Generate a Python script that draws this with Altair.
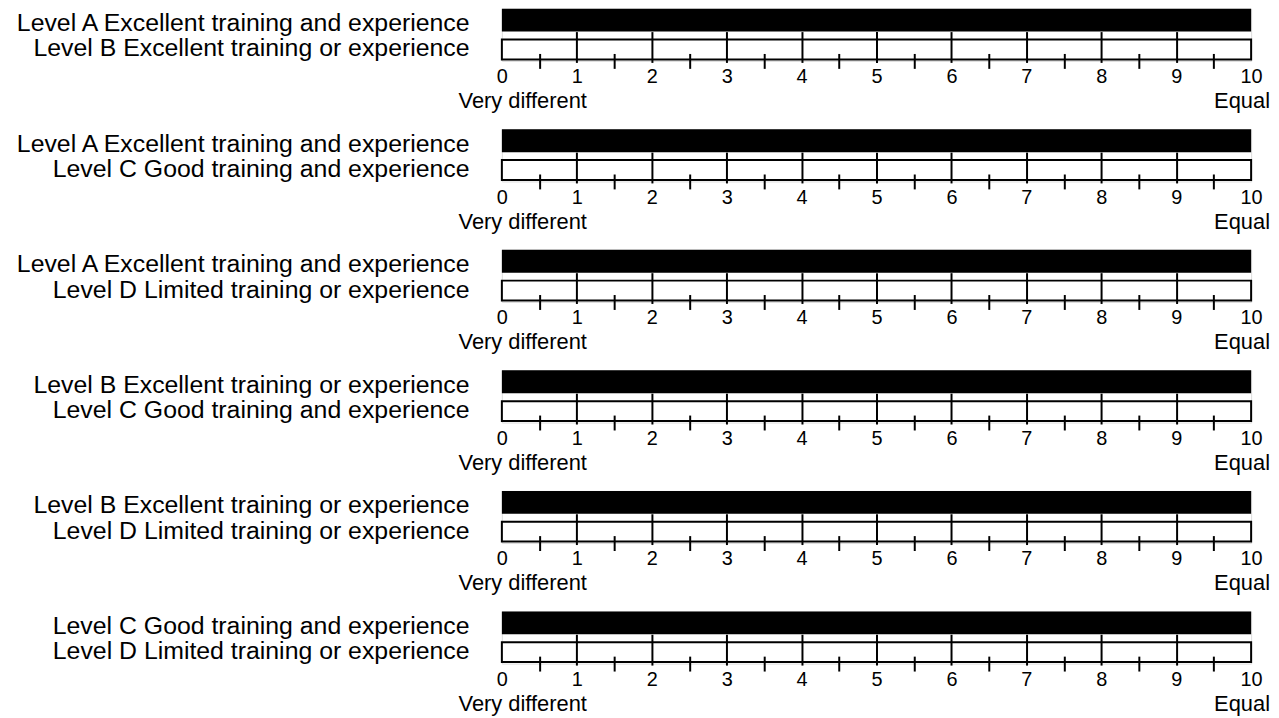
import altair as alt
import pandas as pd

FONT = "Liberation Sans"

# ---- data -------------------------------------------------------------
upper_levels = [
    "Level A Excellent training and experience",
    "Level A Excellent training and experience",
    "Level A Excellent training and experience",
    "Level B Excellent training or experience",
    "Level B Excellent training or experience",
    "Level C Good training and experience",
]
lower_levels = [
    "Level B Excellent training or experience",
    "Level C Good training and experience",
    "Level D Limited training or experience",
    "Level C Good training and experience",
    "Level D Limited training or experience",
    "Level D Limited training or experience",
]
bar_values = [10, 10, 10, 10, 10, 10]
scale_min = 0
scale_max = 10
major_ticks = [1, 2, 3, 4, 5, 6, 7, 8, 9]
minor_ticks = [0.5, 1.5, 2.5, 3.5, 4.5, 5.5, 6.5, 7.5, 8.5, 9.5]
tick_labels = [0, 1, 2, 3, 4, 5, 6, 7, 8, 9, 10]
end_labels = ["Very different", "Equal"]
end_values = [0, 10]

# ---- layout constants ---------------------------------------------------
W = 754
H = 52.5

xscale = alt.Scale(domain=[scale_min, scale_max], nice=False, zero=False)

major_axis = alt.Axis(orient="top", offset=-54, values=major_ticks, tickSize=31,
                      tickWidth=2, tickColor="black", labels=False, domain=False,
                      grid=False, title=None, zindex=1)
minor_axis = alt.Axis(orient="top", offset=-60, values=minor_ticks, tickSize=15,
                      tickWidth=2, tickColor="black", labels=False, domain=False,
                      grid=False, title=None, zindex=1)
label_axis = alt.Axis(orient="bottom", values=tick_labels, ticks=False, tickSize=0,
                      domain=False, grid=False, title=None, labelFontSize=20,
                      labelFont=FONT, labelColor="black", labelPadding=22,
                      labelBaseline="alphabetic", labelFlush=False, labelOverlap=False)

ends = pd.DataFrame({"pos": end_values, "label": end_labels})


def panel(i):
    top, bottom = upper_levels[i], lower_levels[i]
    yscale = alt.Scale(domain=[top, bottom], paddingInner=0.2203, paddingOuter=0)
    yaxis = alt.Axis(
        title=None, domain=False, ticks=False, tickSize=0, labelPadding=33,
        labelFontSize=25, labelFont=FONT, labelColor="black", labelLimit=0,
        labelOffset={"condition": {"test": f"datum.value === '{top}'", "value": 3},
                     "value": -1},
    )
    filled = pd.DataFrame({"pair": [top], "start": [scale_min], "end": [bar_values[i]]})
    outline = pd.DataFrame({"pair": [bottom], "start": [scale_min], "end": [scale_max]})

    black = alt.Chart(filled).mark_bar(color="black").encode(
        x=alt.X("start:Q", scale=xscale, axis=major_axis),
        x2="end:Q",
        y=alt.Y("pair:N", scale=yscale, axis=yaxis, sort=None),
    )
    box = alt.Chart(outline).mark_bar(size=20, fill="white", stroke="black",
                                      strokeWidth=2).encode(
        x=alt.X("start:Q", scale=xscale, axis=minor_axis),
        x2="end:Q",
        y=alt.Y("pair:N", scale=yscale, axis=yaxis, sort=None),
    )
    left_end = alt.Chart(ends).transform_filter(alt.datum.pos == scale_min).mark_text(
        align="center", baseline="alphabetic", dx=21, fontSize=22, font=FONT, color="black"
    ).encode(
        x=alt.X("pos:Q", scale=xscale, axis=label_axis),
        y=alt.value(100),
        text="label:N",
    )
    right_end = alt.Chart(ends).transform_filter(alt.datum.pos == scale_max).mark_text(
        align="right", baseline="alphabetic", dx=19, fontSize=22, font=FONT, color="black"
    ).encode(
        x=alt.X("pos:Q", scale=xscale, axis=None),
        y=alt.value(100),
        text="label:N",
    )
    return alt.layer(black, box, left_end, right_end).resolve_axis(
        x="independent"
    ).properties(width=W, height=H)


chart = alt.vconcat(*[panel(i) for i in range(6)], spacing=68.3, bounds="flush").properties(
    padding={"left": 4, "top": -2.5, "right": 0, "bottom": 0}
).configure_view(stroke=None).configure(font=FONT, background="white")

chart.save("out.html", embed_options={"renderer": "svg", "actions": False})
